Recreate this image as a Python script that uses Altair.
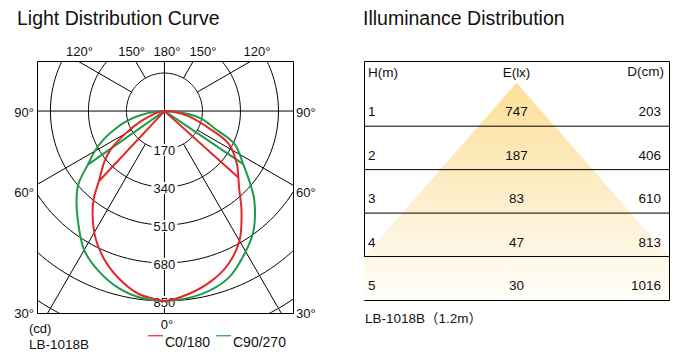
import altair as alt
import numpy as np
import pandas as pd

FONT = "Liberation Sans"
INK = "#111111"
RED = "#E3262A"
GREEN = "#1F9A48"

# ---------------- Light distribution curve (polar, cd) ----------------
RING_VALUES = [170, 340, 510, 680, 850, 1020]
RING_LABELS = [170, 340, 510, 680, 850]
RAY_ANGLES = [-150, -120, -60, -30, 30, 60, 120, 150]
TOP_LABELS = ["120°", "150°", "180°", "150°", "120°"]
TOP_LABEL_X = [-391, -158, 0, 161, 403]
SIDE_LABELS = ["90°", "60°", "30°"]
SIDE_LABEL_Y = [-8, -367, -908]
X_DOMAIN = [-570, 575]
Y_DOMAIN = [-904, 224]

# C0/180 (red): main lobe (nadir -> kink) and outer branch (kink -> 90 deg)
RED_L_MAIN_ANG = [0, 3, 8, 15.4, 22.5, 29.6, 38.3, 43]
RED_L_MAIN_CD = [850, 842, 827, 775, 712, 633, 513, 430]
RED_L_OUT_ANG = [43, 50, 54.5, 60, 66, 72, 80, 90]
RED_L_OUT_CD = [430, 350, 295, 200, 120, 60, 22, 0]
RED_R_MAIN_ANG = [0, 7.5, 15.5, 22.7, 30, 37.6, 44, 48]
RED_R_MAIN_CD = [850, 826, 789, 742, 671, 565, 481, 445]
RED_R_OUT_ANG = [48, 54, 63, 69, 78, 85, 90]
RED_R_OUT_CD = [445, 400, 322, 211, 110, 45, 0]
# C90/270 (green)
GRN_L_MAIN_ANG = [0, 7, 14.6, 22.4, 29.7, 35.3, 44.4, 49.7, 55]
GRN_L_MAIN_CD = [850, 843, 818, 774, 721, 658, 562, 504, 418]
GRN_L_OUT_ANG = [55, 60, 65, 70, 75, 80, 85, 90]
GRN_L_OUT_CD = [418, 360, 300, 235, 175, 110, 50, 0]
GRN_R_MAIN_ANG = [0, 11.4, 21, 29.2, 36.6, 45, 48.5, 56]
GRN_R_MAIN_CD = [850, 836, 800, 733, 668, 569, 520, 425]
GRN_R_OUT_ANG = [56, 64.8, 71, 78, 83, 90]
GRN_R_OUT_CD = [425, 346, 236, 171, 108, 0]

# ---------------- Illuminance distribution table ----------------
TABLE_H = [1, 2, 3, 4, 5]
TABLE_E = [747, 187, 83, 47, 30]
TABLE_D = [203, 406, 610, 813, 1016]
HEADERS = ["H(m)", "E(lx)", "D(cm)"]
ROW_LINES = [1.5, 2.5, 3.5, 4.5]
CONE_Y = [0.5, 4.5, 5.5]
CONE_XL = [0.5, 0.0, 0.0]
CONE_XR = [0.5, 1.0, 1.0]


def curve_tables(name, lm_a, lm_c, lo_a, lo_c, rm_a, rm_c, ro_a, ro_c):
    # smooth outline: origin -> left outer -> left main -> nadir -> right main -> right outer -> origin
    pts = [(-a, c) for a, c in zip(lo_a[::-1], lo_c[::-1])]
    pts += [(-a, c) for a, c in zip(lm_a[::-1][1:], lm_c[::-1][1:])]
    pts += [(a, c) for a, c in zip(rm_a[1:], rm_c[1:])]
    pts += [(a, c) for a, c in zip(ro_a[1:], ro_c[1:])]
    outline = pd.DataFrame({"series": name, "part": name + "-outline",
                            "ang": [p[0] for p in pts], "cd": [p[1] for p in pts],
                            "i": list(range(len(pts)))})
    # straight radial chords: left kink -> origin -> right kink
    chord_pts = [(-lm_a[-1], lm_c[-1]), (-lm_a[-1], 0), (rm_a[-1], 0), (rm_a[-1], rm_c[-1])]
    chords = pd.DataFrame({"series": name, "part": name + "-chord",
                           "ang": [p[0] for p in chord_pts], "cd": [p[1] for p in chord_pts],
                           "i": list(range(len(chord_pts)))})
    return outline, chords


r_out, r_ch = curve_tables("C0/180", RED_L_MAIN_ANG, RED_L_MAIN_CD, RED_L_OUT_ANG, RED_L_OUT_CD,
                           RED_R_MAIN_ANG, RED_R_MAIN_CD, RED_R_OUT_ANG, RED_R_OUT_CD)
g_out, g_ch = curve_tables("C90/270", GRN_L_MAIN_ANG, GRN_L_MAIN_CD, GRN_L_OUT_ANG, GRN_L_OUT_CD,
                           GRN_R_MAIN_ANG, GRN_R_MAIN_CD, GRN_R_OUT_ANG, GRN_R_OUT_CD)
outline_df = pd.concat([g_out, r_out], ignore_index=True)
chord_df = pd.concat([g_ch, r_ch], ignore_index=True)

xs = alt.Scale(domain=X_DOMAIN, nice=False, zero=False)
ys = alt.Scale(domain=Y_DOMAIN, nice=False, zero=False)


def PX(f):
    return alt.X(f, type="quantitative", scale=xs, axis=None)


def PY(f):
    return alt.Y(f, type="quantitative", scale=ys, axis=None)


POLAR_X = "datum.cd * sin(datum.ang * PI / 180)"
POLAR_Y = "-datum.cd * cos(datum.ang * PI / 180)"

rings_df = pd.DataFrame([(v, a) for v in RING_VALUES for a in np.arange(0, 362, 2)],
                        columns=["cd", "ang"])
circles = alt.Chart(rings_df).transform_calculate(x=POLAR_X, y=POLAR_Y).mark_line(
    clip=True, color="black", strokeWidth=1).encode(
    x=PX("x"), y=PY("y"), detail="cd:N", order="ang:Q")

rays = alt.Chart(pd.DataFrame({"ang": RAY_ANGLES})).transform_calculate(
    xa=f"{RING_VALUES[0]} * sin(datum.ang * PI / 180)",
    ya=f"-{RING_VALUES[0]} * cos(datum.ang * PI / 180)",
    xb="1300 * sin(datum.ang * PI / 180)",
    yb="-1300 * cos(datum.ang * PI / 180)",
).mark_rule(clip=True, color="black", strokeWidth=1).encode(
    x=PX("xa"), y=PY("ya"), x2="xb:Q", y2="yb:Q")

zero_df = pd.DataFrame({"v": [0]})
vline = alt.Chart(zero_df).mark_rule(color="black", strokeWidth=1).encode(x=PX("v"))
hline = alt.Chart(zero_df).mark_rule(color="black", strokeWidth=1).encode(y=PY("v"))

lab_df = pd.DataFrame({"v": RING_LABELS})
label_bg = alt.Chart(lab_df).transform_calculate(
    xa="-58", xb="58", ya="-datum.v - 31", yb="-datum.v + 22"
).mark_rect(fill="white").encode(x=PX("xa"), x2="xb:Q", y=PY("ya"), y2="yb:Q")
ring_text = alt.Chart(lab_df).transform_calculate(xa="0", ya="-datum.v").mark_text(
    font=FONT, fontSize=13, color=INK, baseline="middle", dy=2).encode(
    x=PX("xa"), y=PY("ya"), text=alt.Text("v:Q", format="d"))

top_df = pd.DataFrame({"t": TOP_LABELS, "x": TOP_LABEL_X, "y": Y_DOMAIN[1]})
top_text = alt.Chart(top_df).mark_text(font=FONT, fontSize=13, color=INK, baseline="middle",
                                       dy=-9, dx=2.5).encode(x=PX("x"), y=PY("y"), text="t:N")
left_df = pd.DataFrame({"t": SIDE_LABELS, "x": X_DOMAIN[0], "y": SIDE_LABEL_Y})
left_text = alt.Chart(left_df).mark_text(font=FONT, fontSize=13, color=INK, baseline="middle",
                                         align="right", dx=-3).encode(x=PX("x"), y=PY("y"), text="t:N")
right_df = pd.DataFrame({"t": SIDE_LABELS, "x": X_DOMAIN[1], "y": SIDE_LABEL_Y})
right_text = alt.Chart(right_df).mark_text(font=FONT, fontSize=13, color=INK, baseline="middle",
                                           align="left", dx=3).encode(x=PX("x"), y=PY("y"), text="t:N")

corner_df = pd.DataFrame({"x": [X_DOMAIN[0]], "y": [Y_DOMAIN[0]], "xc": [0], "yt": [Y_DOMAIN[1]]})
zero_text = alt.Chart(corner_df).mark_text(font=FONT, fontSize=13, color=INK, baseline="middle",
                                           dy=12, dx=2.5, text="0°").encode(x=PX("xc"), y=PY("y"))
cd_text = alt.Chart(corner_df).mark_text(font=FONT, fontSize=13, color=INK, baseline="middle",
                                         align="left", dx=-8, dy=16, text="(cd)").encode(x=PX("x"), y=PY("y"))
model_text = alt.Chart(corner_df).mark_text(font=FONT, fontSize=13.5, color=INK, baseline="middle",
                                            align="left", dx=-8, dy=32, text="LB-1018B").encode(
    x=PX("x"), y=PY("y"))
left_title = alt.Chart(corner_df).mark_text(font=FONT, fontSize=19.5, color=INK, baseline="alphabetic",
                                            align="left", dx=-20, dy=-36,
                                            text="Light Distribution Curve").encode(x=PX("x"), y=PY("yt"))

series_scale = alt.Scale(domain=["C0/180", "C90/270"], range=[RED, GREEN])
series_legend = alt.Legend(title=None, orient="none", legendX=110, legendY=266,
                           direction="horizontal", symbolType="stroke", symbolSize=220,
                           symbolStrokeWidth=1.2, labelFontSize=14, labelFont=FONT,
                           labelColor=INK, labelBaseline="top", columnPadding=2,
                           labelOffset=1, padding=0)
outline = alt.Chart(outline_df).transform_calculate(x=POLAR_X, y=POLAR_Y).mark_line(
    strokeWidth=2, clip=True, interpolate="catmull-rom").encode(
    x=PX("x"), y=PY("y"), order="i:Q", detail="part:N",
    color=alt.Color("series:N", scale=series_scale, legend=series_legend))
chords = alt.Chart(chord_df).transform_calculate(x=POLAR_X, y=POLAR_Y).mark_line(
    strokeWidth=2, clip=True).encode(
    x=PX("x"), y=PY("y"), order="i:Q", detail="part:N",
    color=alt.Color("series:N", scale=series_scale, legend=series_legend))

left = alt.layer(circles, rays, vline, hline, label_bg, ring_text, top_text, left_text, right_text,
                 zero_text, cd_text, model_text, left_title, chords, outline).properties(width=256, height=252)

# ---------------- right panel ----------------
rx = alt.Scale(domain=[0, 1], nice=False, zero=False)
ry = alt.Scale(domain=[0, 5.5], reverse=True, nice=False, zero=False)


def TX(f):
    return alt.X(f, type="quantitative", scale=rx, axis=None)


def TY(f):
    return alt.Y(f, type="quantitative", scale=ry, axis=None)


cone_df = pd.DataFrame({"y": CONE_Y, "xl": CONE_XL, "xr": CONE_XR})
cone = alt.Chart(cone_df).mark_area(
    orient="horizontal",
    color=alt.Gradient(gradient="linear", x1=0, x2=0, y1=0, y2=1,
                       stops=[alt.GradientStop(color="#FCDF98", offset=0),
                              alt.GradientStop(color="#FDE9BA", offset=0.35),
                              alt.GradientStop(color="#FEF4DC", offset=0.7),
                              alt.GradientStop(color="#FFFEFA", offset=1)])
).encode(y=TY("y"), x=TX("xl"), x2="xr:Q")

rules = alt.Chart(pd.DataFrame({"y": ROW_LINES})).mark_rule(color="black", strokeWidth=1).encode(y=TY("y"))

rows_df = pd.DataFrame({"H": TABLE_H, "E": TABLE_E, "D": TABLE_D})
rows_df["y"] = rows_df["H"] + 0.18
rows_df["xl"] = 0.0
rows_df["xc"] = 0.5
rows_df["xr"] = 1.0
tsty = dict(font=FONT, fontSize=13.5, color=INK, baseline="middle")
h_text = alt.Chart(rows_df).mark_text(align="left", dx=4, **tsty).encode(x=TX("xl"), y=TY("y"), text="H:N")
e_text = alt.Chart(rows_df).mark_text(align="center", **tsty).encode(x=TX("xc"), y=TY("y"), text="E:N")
d_text = alt.Chart(rows_df).mark_text(align="right", dx=-8, **tsty).encode(x=TX("xr"), y=TY("y"), text="D:N")

hdr_df = pd.DataFrame({"x": [0.0, 0.5, 1.0], "y": [0.28, 0.28, 0.25], "t": HEADERS})
hdr_h = alt.Chart(hdr_df.iloc[[0]]).mark_text(align="left", dx=4, **tsty).encode(x=TX("x"), y=TY("y"), text="t:N")
hdr_e = alt.Chart(hdr_df.iloc[[1]]).mark_text(align="center", **tsty).encode(x=TX("x"), y=TY("y"), text="t:N")
hdr_d = alt.Chart(hdr_df.iloc[[2]]).mark_text(align="right", dx=-5, **tsty).encode(x=TX("x"), y=TY("y"), text="t:N")

frame_df = pd.DataFrame({"x": [0.0], "yt": [0.0], "yb": [5.5]})
right_title = alt.Chart(frame_df).mark_text(font=FONT, fontSize=19.5, color=INK, baseline="alphabetic",
                                            align="left", dx=-1, dy=-36,
                                            text="Illuminance Distribution").encode(x=TX("x"), y=TY("yt"))
foot = alt.Chart(frame_df).mark_text(font=f"{FONT}, Noto Sans CJK SC", fontSize=13.5, color=INK,
                                     baseline="middle", align="left", dx=1, dy=19,
                                     text="LB-1018B（1.2m）").encode(x=TX("x"), y=TY("yb"))

right = alt.layer(cone, rules, h_text, e_text, d_text, hdr_h, hdr_e, hdr_d, right_title, foot).properties(
    width=305, height=239)

chart = alt.hconcat(left, right, spacing=45).resolve_scale(x="independent", y="independent").properties(
    padding={"left": 13, "top": 8, "right": 0, "bottom": 0}, background="white"
).configure_view(stroke="black", strokeWidth=1)

chart.save("out.html", embed_options={"renderer": "svg", "actions": False})
